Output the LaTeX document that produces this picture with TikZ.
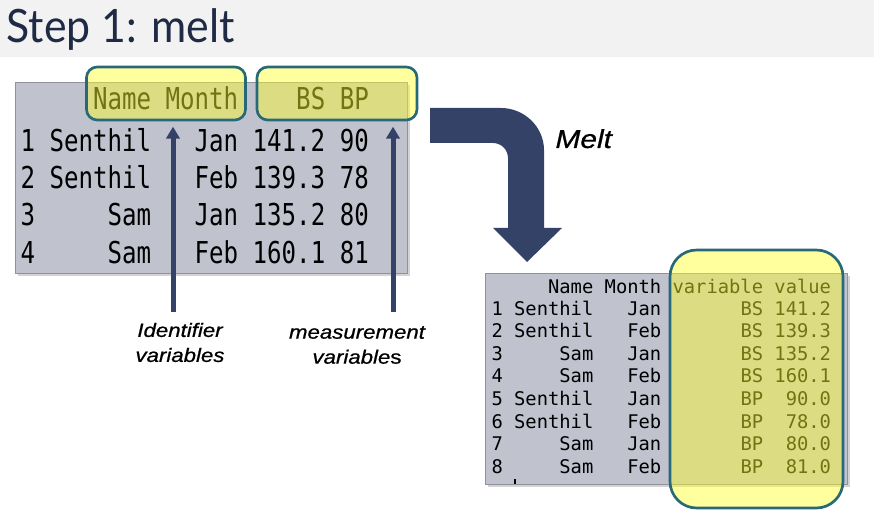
\documentclass[tikz,border=0pt]{standalone}
\usepackage{fontspec}
\setmainfont{Liberation Sans}
\newfontfamily\titlefont[FakeStretch=0.93]{Lato}
\newfontfamily\labelfont[FakeStretch=1.15,FakeBold=0.8]{Liberation Sans}
\newfontfamily\lmono[FakeStretch=0.8]{DejaVu Sans Mono}
\newfontfamily\rmono{DejaVu Sans Mono}
\usetikzlibrary{arrows.meta,shadows}

\definecolor{navy}{RGB}{53,66,104}
\definecolor{titleink}{RGB}{31,42,68}
\definecolor{barbg}{RGB}{242,242,242}
\definecolor{rgray}{RGB}{192,194,206}
\definecolor{hlyellow}{RGB}{255,255,40}
\definecolor{hlteal}{RGB}{40,105,120}

\tikzset{every picture/.style={line width=0.75pt}}
\tikzset{
  rtable/.style={fill=rgray, draw=rgray!75!black, line width=0.5pt,
    drop shadow={shadow xshift=2pt, shadow yshift=-2pt, opacity=0.35}},
  hlbox/.style={draw=hlteal, line width=2pt, fill=hlyellow, fill opacity=0.45, rounded corners=8pt},
  upvar/.style={draw=navy, line width=3.75pt, -{Triangle[width=10pt,length=9pt]}, shorten >=4pt},
  lrow/.style={anchor=base west, inner sep=0pt, font=\lmono\fontsize{22.6pt}{24pt}\selectfont},
  rrow/.style={anchor=base west, inner sep=0pt, font=\rmono\fontsize{14.1pt}{16pt}\selectfont},
  varlabel/.style={align=center, font=\labelfont\itshape\fontsize{14.5pt}{18.75pt}\selectfont},
}

\begin{document}
\begin{tikzpicture}[x=0.75pt,y=0.75pt,yscale=-1,xscale=1]
\useasboundingbox (0,0) rectangle (874,527);

% Title bar
\fill[barbg] (0,0) rectangle (874,57);
\node[anchor=base west, inner sep=0pt, text=titleink, font=\titlefont\fontsize{34.5pt}{40pt}\selectfont] (title) at (6,43) {Step 1: melt};

% Left table
\draw[rtable] (15,82) rectangle (407,273);
\node[lrow] (lhead) at (20,110) {~~~~~Name~Month~~~~BS~BP};
\node[lrow] (lrow1) at (20,152) {1~Senthil~~~Jan~141.2~90};
\node[lrow] (lrow2) at (20,189) {2~Senthil~~~Feb~139.3~78};
\node[lrow] (lrow3) at (20,226) {3~~~~~Sam~~~Jan~135.2~80};
\node[lrow] (lrow4) at (20,263) {4~~~~~Sam~~~Feb~160.1~81};

% Highlight boxes
\node[hlbox, minimum width=119.25pt, minimum height=39.75pt] (idbox) at (166,93.5) {};
\node[hlbox, minimum width=120pt, minimum height=39.75pt] (measbox) at (337,93.5) {};

% Up arrows
\coordinate (idfoot) at (173,312);
\coordinate (measfoot) at (393,312);
\draw[upvar] (idfoot) -- (idfoot |- idbox.south);
\draw[upvar] (measfoot) -- (measfoot |- measbox.south);

% Text Node
\node[varlabel] (idlab) at (180,342.5) {Identifier\\variables};
% Text Node
\node[varlabel] (measlab) at (357,345) {measurement\\variable\textup{s}};

% Bent arrow
\fill[navy] (430,108) -- (501,108) .. controls (524.2,108) and (544,126.8) .. (544,150)
  -- (544,228) -- (562,228) -- (527,262) -- (493,228) -- (508,228) -- (508,158)
  .. controls (508,149.7) and (501.3,143) .. (493,143) -- (430,143) -- cycle;
\node[anchor=base west, inner sep=0pt, font=\labelfont\itshape\fontsize{19.5pt}{22pt}\selectfont] (meltlab) at (555,148) {Melt};

% Right table
\draw[rtable] (485,273) rectangle (847,484);
\node[rrow] (rhead) at (491,293) {~~~~~Name~Month~variable~value};
\node[rrow] (rrow1) at (491,315) {1~Senthil~~~Jan~~~~~~~BS~141.2};
\node[rrow] (rrow2) at (491,337.6) {2~Senthil~~~Feb~~~~~~~BS~139.3};
\node[rrow] (rrow3) at (491,360.2) {3~~~~~Sam~~~Jan~~~~~~~BS~135.2};
\node[rrow] (rrow4) at (491,382.8) {4~~~~~Sam~~~Feb~~~~~~~BS~160.1};
\node[rrow] (rrow5) at (491,405.4) {5~Senthil~~~Jan~~~~~~~BP~~90.0};
\node[rrow] (rrow6) at (491,428) {6~Senthil~~~Feb~~~~~~~BP~~78.0};
\node[rrow] (rrow7) at (491,450.6) {7~~~~~Sam~~~Jan~~~~~~~BP~~80.0};
\node[rrow] (rrow8) at (491,473.2) {8~~~~~Sam~~~Feb~~~~~~~BP~~81.0};
\draw[line width=0.8pt] (515,479) -- (515,484);

% Highlight box
\draw[hlbox, rounded corners=20pt] (670,250) rectangle (843,508);

\end{tikzpicture}
\end{document}
